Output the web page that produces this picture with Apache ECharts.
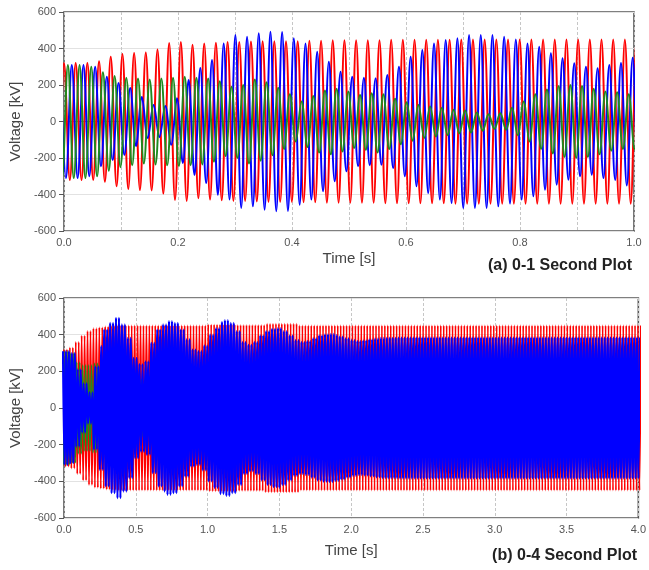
<!DOCTYPE html>
<html>
<head>
<meta charset="utf-8">
<script src="https://cdn.jsdelivr.net/npm/echarts@6.0.0/dist/echarts.min.js"></script>
<style>
  html, body { margin: 0; padding: 0; background: #fff; }
  #chart { width: 649px; height: 570px; }
</style>
</head>
<body>
<div id="chart"></div>
<script>
// one cycle of the waveforms (s) and lag of each phase in cycles
const periodS = 0.0205;
const lagRed = 0, lagGreen = 1 / 3, lagBlue = 2 / 3;

// (a) 0-1 s : peak amplitude (kV) of each trace, one value every 0.02 s
const stepA = 0.02;
const redEnvA = [320, 320, 320, 330, 355, 370, 375, 378, 395, 430,
  435, 420, 428, 432, 435, 435, 438, 440, 440, 440,
  440, 442, 442, 445, 445, 445, 445, 445, 448, 448,
  448, 448, 448, 448, 450, 450, 450, 450, 450, 450,
  450, 450, 450, 450, 450, 450, 450, 450, 450, 450];
const blueEnvA = [310, 310, 300, 245, 211, 183, 134, 90, 85, 128,
  227, 293, 337, 402, 428, 474, 465, 483, 492, 490,
  456, 428, 382, 328, 273, 245, 240, 237, 255, 300,
  355, 392, 428, 447, 456, 474, 474, 474, 465, 450,
  428, 410, 374, 346, 319, 300, 292, 310, 320, 350];
const greenEnvA = [310, 310, 300, 270, 250, 240, 235, 230, 235, 240,
  245, 240, 235, 220, 190, 200, 230, 215, 185, 150,
  110, 140, 170, 180, 165, 145, 155, 170, 150, 125,
  105, 90, 82, 75, 65, 60, 50, 40, 45, 75,
  110, 150, 175, 195, 200, 195, 180, 165, 160, 150];

// (b) 0-4 s : peak amplitude (kV), one value every 0.04 s
const stepB = 0.04;
const redEnvB = [320, 330, 360, 395, 420, 435, 440, 445, 448, 450,
  450, 450, 450, 450, 450, 450, 450, 450, 450, 450,
  450, 450, 450, 450, 450, 455, 455, 455, 455, 455,
  452, 452, 452, 452, 452, 460, 460, 460, 460, 460,
  460, 450, 450, 450, 450, 450, 450, 450, 450, 450,
  450, 450, 450, 450, 450, 450, 450, 450, 450, 450,
  450, 450, 450, 450, 450, 450, 450, 450, 450, 450,
  450, 450, 450, 450, 450, 450, 450, 450, 450, 450,
  450, 450, 450, 450, 450, 450, 450, 450, 450, 450,
  450, 450, 450, 450, 450, 450, 450, 450, 450, 450];
const blueEnvB = [310, 300, 211, 134, 85, 227, 337, 428, 465, 492,
  456, 382, 273, 240, 255, 355, 428, 456, 474, 465,
  428, 374, 319, 310, 340, 400, 436, 470, 480, 465,
  420, 360, 345, 360, 395, 420, 432, 436, 420, 395,
  370, 360, 365, 380, 395, 402, 404, 398, 390, 380,
  370, 365, 368, 373, 378, 382, 383, 383, 384, 384,
  384, 384, 384, 384, 384, 384, 384, 384, 384, 384,
  384, 384, 384, 384, 384, 384, 384, 384, 384, 384,
  384, 384, 384, 384, 384, 384, 384, 384, 384, 384,
  384, 384, 384, 384, 384, 384, 384, 384, 384, 384];
const greenEnvB = [310, 300, 250, 235, 235, 245, 235, 190, 230, 185,
  110, 170, 165, 155, 150, 105, 82, 65, 50, 45,
  110, 175, 200, 180, 160, 150, 140, 130, 130, 140,
  160, 180, 190, 190, 180, 170, 160, 160, 170, 180,
  185, 185, 180, 175, 170, 170, 170, 170, 170, 170,
  170, 170, 170, 170, 170, 170, 170, 170, 170, 170,
  170, 170, 170, 170, 170, 170, 170, 170, 170, 170,
  170, 170, 170, 170, 170, 170, 170, 170, 170, 170,
  170, 170, 170, 170, 170, 170, 170, 170, 170, 170,
  170, 170, 170, 170, 170, 170, 170, 170, 170, 170];

const voltMin = -600, voltMax = 600, voltStep = 200;

// alternating +/- peaks, one every half cycle, amplitude taken from the envelope
function peaks(env, step, lag, tEnd) {
  const out = [];
  for (let k = -2; ; k++) {
    const t = (lag + k / 2) * periodS;
    if (t > tEnd + periodS) break;
    const i = Math.min(env.length - 1, Math.max(0, Math.floor(t / step + 1e-9)));
    const sign = ((k % 2) + 2) % 2 === 0 ? 1 : -1;
    out.push([t, sign * env[i]]);
  }
  return out;
}

const FONT = "'Liberation Sans', Arial, sans-serif";
const RED = '#ff0000', GREEN = '#1f8a1f', BLUE = '#0000ff';

function yAxis(gi) {
  return {
    gridIndex: gi, type: 'value', min: voltMin, max: voltMax, interval: voltStep,
    name: 'Voltage [kV]', nameLocation: 'middle', nameGap: 38,
    nameTextStyle: { fontFamily: FONT, fontSize: 15, color: '#444' },
    axisLine: { show: false },
    axisTick: { show: true, inside: false, length: 5, lineStyle: { color: '#555' } },
    axisLabel: { fontFamily: FONT, fontSize: 11, color: '#555', margin: 8 },
    splitLine: { show: true, lineStyle: { color: ['#e2e2e2', '#e2e2e2', '#e2e2e2', '#8c8c8c', '#e2e2e2', '#e2e2e2', '#e2e2e2'], width: 1 } }
  };
}

function xAxis(gi, max, interval, labelEvery, gap) {
  return {
    gridIndex: gi, type: 'value', min: 0, max: max, interval: interval,
    name: 'Time [s]', nameLocation: 'middle', nameGap: gap,
    nameTextStyle: { fontFamily: FONT, fontSize: 15, color: '#444' },
    axisLine: { show: false },
    axisTick: { show: true, inside: true, length: 4, lineStyle: { color: '#555' } },
    axisLabel: {
      fontFamily: FONT, fontSize: 11, color: '#555', margin: 6,
      formatter: v => (Math.round(v / interval) % labelEvery === 0 ? v.toFixed(1) : '')
    },
    splitLine: { show: true, lineStyle: { color: '#c6c6c6', type: [3, 2], width: 1 } }
  };
}

function wave(name, color, data, gi, width) {
  return {
    name: name, type: 'line', xAxisIndex: gi, yAxisIndex: gi, data: data,
    showSymbol: false, symbol: 'none', smooth: 0.36, clip: true,
    lineStyle: { color: color, width: width }, emphasis: { disabled: true }
  };
}

const chart = echarts.init(document.getElementById('chart'), null, { renderer: 'canvas' });
chart.setOption({
  animation: false,
  backgroundColor: '#fff',
  grid: [
    { left: 64, top: 12, width: 570, height: 219, show: true, borderColor: '#555', borderWidth: 1.6, backgroundColor: 'transparent' },
    { left: 64, top: 298, width: 578, height: 220, show: true, borderColor: '#555', borderWidth: 1.6, backgroundColor: 'transparent' }
  ],
  xAxis: [xAxis(0, 1, 0.1, 2, 20), xAxis(1, 4, 0.5, 1, 25)],
  yAxis: [yAxis(0), yAxis(1)],
  graphic: [
    { type: 'text', right: 17, top: 258, style: { text: '(a) 0-1 Second Plot', font: 'bold 16px ' + FONT, fill: '#222' } },
    { type: 'text', right: 12, top: 548, style: { text: '(b) 0-4 Second Plot', font: 'bold 16px ' + FONT, fill: '#222' } }
  ],
  series: [
    wave('Va', RED, peaks(redEnvA, stepA, lagRed, 1), 0, 2),
    wave('Vc', BLUE, peaks(blueEnvA, stepA, lagBlue, 1), 0, 2),
    wave('Vb', GREEN, peaks(greenEnvA, stepA, lagGreen, 1), 0, 2),
    wave('Va', RED, peaks(redEnvB, stepB, lagRed, 4), 1, 1.8),
    wave('Vb', GREEN, peaks(greenEnvB, stepB, lagGreen, 4), 1, 1.6),
    wave('Vc', BLUE, peaks(blueEnvB, stepB, lagBlue, 4), 1, 2.2)
  ]
});
</script>
</body>
</html>
